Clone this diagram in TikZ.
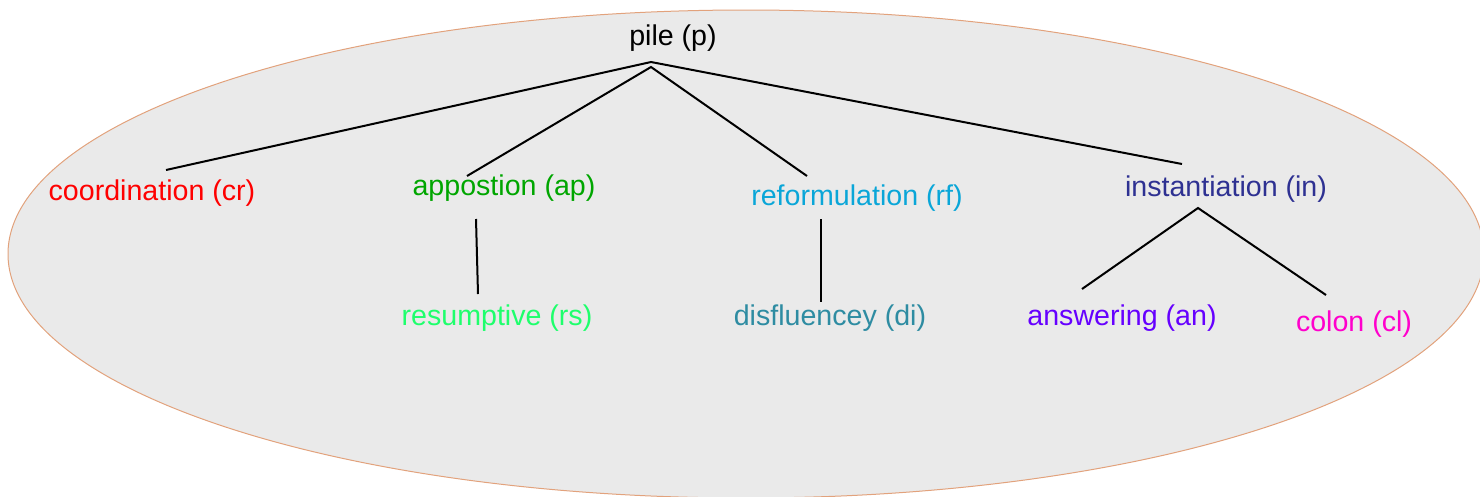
\documentclass[tikz,border=0pt]{standalone}
\usepackage{fontspec}
\setmainfont{Liberation Sans}
\definecolor{ovalfill}{HTML}{EAEAEA}
\definecolor{ovaledge}{HTML}{E2A27C}
\definecolor{ccr}{HTML}{FF0000}
\definecolor{cap}{HTML}{00A600}
\definecolor{crs}{HTML}{1EFF6C}
\definecolor{crf}{HTML}{0AA6D8}
\definecolor{cdi}{HTML}{2E8CA2}
\definecolor{cin}{HTML}{2E3192}
\definecolor{can}{HTML}{6600FF}
\definecolor{ccl}{HTML}{FF00CC}
\tikzset{
  label/.style={anchor=base, inner sep=0pt, font=\fontsize{28.6}{34}\selectfont},
  branch/.style={draw=black, line width=2pt},
}
\begin{document}
\begin{tikzpicture}[x=1pt, y=-1pt]
\useasboundingbox (0,0) rectangle (1480,496);
\clip (0,0) rectangle (1480,496);
% background oval
\draw[fill=ovalfill, draw=ovaledge, line width=1pt] (746,254) ellipse [x radius=738, y radius=244];

% labels
\node[label] (p)  at (673,45)  {pile (p)};
\node[label, text=ccr] (cr) at (152,200) {coordination (cr)};
\node[label, text=cap] (ap) at (504,195) {appostion (ap)};
\node[label, text=crf] (rf) at (857,205) {reformulation (rf)};
\node[label, text=cin] (in) at (1226,196) {instantiation (in)};
\node[label, text=crs] (rs) at (497,325) {resumptive (rs)};
\node[label, text=cdi] (di) at (830,325) {disfluencey (di)};
\node[label, text=can] (an) at (1122,325) {answering (an)};
\node[label, text=ccl] (cl) at (1354,331) {colon (cl)};

% attachment points of the branches
\coordinate (p-outer) at (651,62);
\coordinate (p-inner) at (651,67);
\coordinate (cr-top) at (166,170);
\coordinate (ap-top) at (467,176);
\coordinate (rf-top) at (807,176);
\coordinate (in-top) at (1182,164);
\coordinate (ap-bot) at (476,219);
\coordinate (rs-top) at (478,294);
\coordinate (rf-bot) at (821,219);
\coordinate (di-top) at (821,302);
\coordinate (in-bot) at (1198,208);
\coordinate (an-top) at (1082,289);
\coordinate (cl-top) at (1326,295);

% tree branches
\draw[branch] (cr-top) -- (p-outer) -- (in-top);
\draw[branch] (ap-top) -- (p-inner) -- (rf-top);
\draw[branch] (ap-bot) -- (rs-top);
\draw[branch] (rf-bot) -- (di-top);
\draw[branch] (an-top) -- (in-bot) -- (cl-top);
\end{tikzpicture}
\end{document}
